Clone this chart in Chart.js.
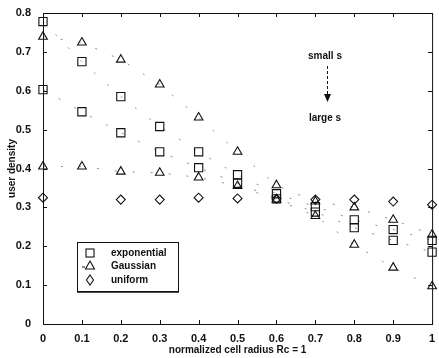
<!DOCTYPE html>
<html>
<head>
    <title>user density vs cell radius</title>
    <script src="https://cdn.jsdelivr.net/npm/chart.js"></script>
    <style>
        body { margin: 0; background: #fff; }
    </style>
</head>
<body>
    <canvas id="densityChart" width="439" height="358"></canvas>

    <script>
        // normalized cell radius (x) and user density per model
        const radius = [0, 0.1, 0.2, 0.3, 0.4, 0.5, 0.6, 0.7, 0.8, 0.9, 1];
        const expSmall = [0.778, 0.675, 0.585, 0.508, 0.443, 0.384, 0.335, 0.302, 0.268, 0.243, 0.215];
        const expLarge = [0.603, 0.546, 0.492, 0.443, 0.402, 0.362, 0.322, 0.288, 0.248, 0.215, 0.185];
        const gaussSmall = [0.739, 0.724, 0.680, 0.616, 0.531, 0.443, 0.357, 0.315, 0.300, 0.268, 0.230];
        const gaussLarge = [0.405, 0.405, 0.392, 0.389, 0.377, 0.355, 0.320, 0.278, 0.204, 0.145, 0.097];
        const uniform = [0.325, null, 0.320, 0.320, 0.325, 0.323, 0.322, 0.320, 0.320, 0.315, 0.307];

        const legendItems = ['exponential', 'Gaussian', 'uniform'];
        const xTitle = 'normalized cell radius Rc = 1';
        const yTitle = 'user density';

        const ink = '#111';
        const font = 'Liberation Sans, Arial, Helvetica, sans-serif';

        function pts(values) {
            return radius.map((r, i) => ({ x: r, y: values[i] }));
        }

        function series(values, style, radiusPx, line) {
            return {
                data: pts(values),
                pointStyle: style,
                pointRadius: radiusPx,
                pointHoverRadius: radiusPx,
                pointBorderColor: ink,
                pointBackgroundColor: 'rgba(0,0,0,0)',
                pointBorderWidth: 1.1,
                showLine: line,
                borderColor: 'rgba(0,0,0,0.45)',
                borderWidth: 1,
                borderDash: [2, 16],
                spanGaps: false,
                clip: false
            };
        }

        // tick text like 0, 0.1 ... 1
        const fmt = v => String(Math.round(v * 10) / 10);

        // MATLAB-like box with inward ticks, boxed legend and the s annotation
        const decorations = {
            id: 'decorations',
            afterDatasetsDraw(chart) {
                const { ctx, chartArea: a, scales } = chart;
                ctx.save();
                ctx.strokeStyle = ink;
                ctx.lineWidth = 1;
                ctx.strokeRect(a.left + 0.5, a.top + 0.5, a.right - a.left, a.bottom - a.top);

                ctx.beginPath();
                scales.x.ticks.forEach(t => {
                    const px = Math.round(scales.x.getPixelForValue(t.value)) + 0.5;
                    ctx.moveTo(px, a.bottom); ctx.lineTo(px, a.bottom - 4);
                    ctx.moveTo(px, a.top); ctx.lineTo(px, a.top + 4);
                });
                scales.y.ticks.forEach(t => {
                    const py = Math.round(scales.y.getPixelForValue(t.value)) + 0.5;
                    ctx.moveTo(a.left, py); ctx.lineTo(a.left + 4, py);
                    ctx.moveTo(a.right, py); ctx.lineTo(a.right - 4, py);
                });
                ctx.stroke();

                // legend
                const lx = 77, ly = 242, lw = 101, lh = 49;
                ctx.fillStyle = '#fff';
                ctx.fillRect(lx, ly, lw, lh);
                ctx.strokeRect(lx + 0.5, ly + 0.5, lw, lh);
                ctx.lineWidth = 1.5;
                ctx.beginPath();
                ctx.moveTo(lx, ly + lh + 1); ctx.lineTo(lx + lw + 1, ly + lh + 1);
                ctx.stroke();
                ctx.lineWidth = 1.1;

                const mx = 90;
                const rows = [253, 266, 280];
                // square
                ctx.strokeRect(mx - 4, rows[0] - 4, 8, 8);
                // dashed line + triangle
                ctx.beginPath();
                ctx.moveTo(82, rows[1] + 1); ctx.lineTo(85, rows[1] + 1);
                ctx.moveTo(mx, rows[1] - 5); ctx.lineTo(mx + 4.5, rows[1] + 3); ctx.lineTo(mx - 4.5, rows[1] + 3); ctx.closePath();
                ctx.stroke();
                // diamond
                ctx.beginPath();
                ctx.moveTo(mx, rows[2] - 5); ctx.lineTo(mx + 3.5, rows[2]); ctx.lineTo(mx, rows[2] + 5); ctx.lineTo(mx - 3.5, rows[2]); ctx.closePath();
                ctx.stroke();

                ctx.fillStyle = ink;
                ctx.font = 'bold 10px ' + font;
                ctx.textBaseline = 'middle';
                ctx.textAlign = 'left';
                legendItems.forEach((txt, i) => ctx.fillText(txt, 111, rows[i]));

                // small s -> large s
                ctx.textAlign = 'center';
                ctx.fillText('small s', 325, 56);
                ctx.fillText('large s', 325, 118);
                ctx.lineWidth = 1;
                ctx.setLineDash([3, 2]);
                ctx.beginPath();
                ctx.moveTo(327.5, 66); ctx.lineTo(327.5, 96);
                ctx.stroke();
                ctx.setLineDash([]);
                ctx.beginPath();
                ctx.moveTo(324, 94); ctx.lineTo(331, 94); ctx.lineTo(327.5, 102); ctx.closePath();
                ctx.fill();
                ctx.restore();
            }
        };

        const chart = new Chart(document.getElementById('densityChart'), {
            type: 'line',
            data: {
                datasets: [
                    series(expSmall, 'rect', 5.8, true),
                    series(expLarge, 'rect', 5.8, true),
                    series(gaussSmall, 'triangle', 5, true),
                    series(gaussLarge, 'triangle', 5, true),
                    series(uniform, 'rectRot', 4.5, false)
                ]
            },
            options: {
                responsive: false,
                animation: false,
                devicePixelRatio: 1,
                layout: { padding: { top: 13, right: 0, left: 0, bottom: 0 } },
                plugins: {
                    legend: { display: false },
                    tooltip: { enabled: false }
                },
                scales: {
                    x: {
                        type: 'linear',
                        min: 0,
                        max: 1,
                        ticks: { stepSize: 0.1, callback: fmt, color: ink, padding: 0, maxRotation: 0, font: { family: font, size: 11, weight: 'bold' } },
                        grid: { display: false },
                        border: { display: false },
                        title: { display: true, text: xTitle, color: ink, padding: { top: 0, bottom: 2 }, font: { family: font, size: 10, weight: 'bold' } },
                        afterFit: s => { s.height = 34; s.paddingRight = 2; }
                    },
                    y: {
                        min: 0,
                        max: 0.8,
                        ticks: { stepSize: 0.1, callback: fmt, color: ink, padding: 4, font: { family: font, size: 11, weight: 'bold' } },
                        grid: { display: false },
                        border: { display: false },
                        title: { display: true, text: yTitle, color: ink, padding: { top: 6, bottom: 0 }, font: { family: font, size: 10, weight: 'bold' } },
                        afterFit: s => { s.width = 43; }
                    }
                }
            },
            plugins: [decorations]
        });
    </script>
</body>
</html>
